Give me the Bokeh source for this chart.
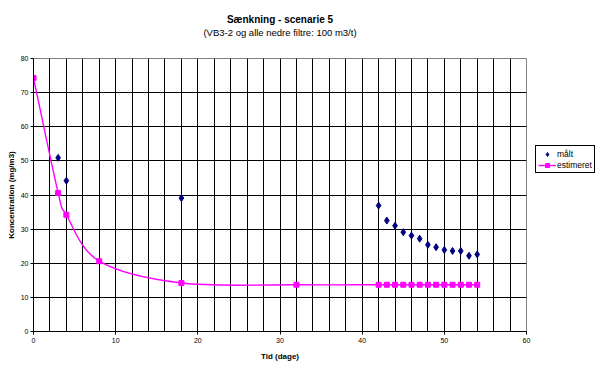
import math
from bokeh.plotting import figure
from bokeh.layouts import row
from bokeh.models import (ColumnDataSource, Legend, LegendItem, Title, FixedTicker, Range1d)
from bokeh.embed import file_html
from bokeh.resources import INLINE

title_main = "Sænkning - scenarie 5"
title_sub = "(VB3-2 og alle nedre filtre: 100 m3/t)"
x_label = "Tid (dage)"
y_label = "Koncentration (mg/m3)"
legend_labels = ["målt", "estimeret"]

x_ticks = [0, 10, 20, 30, 40, 50, 60]
y_ticks = [0, 10, 20, 30, 40, 50, 60, 70, 80]

maalt_x = [3, 4, 18, 42, 43, 44, 45, 46, 47, 48, 49, 50, 51, 52, 53, 54]
maalt_y = [50.9, 44.2, 39.1, 36.9, 32.5, 31.0, 29.1, 28.1, 27.2, 25.4, 24.7,
           23.9, 23.6, 23.6, 22.2, 22.6]

est_x = [0, 3, 4, 8, 18, 32, 42, 43, 44, 45, 46, 47, 48, 49, 50, 51, 52, 53, 54]
est_y = [74.3, 40.6, 34.2, 20.6, 14.2, 13.7, 13.7, 13.7, 13.7, 13.7, 13.7,
         13.7, 13.7, 13.7, 13.7, 13.7, 13.7, 13.7, 13.7]

FONT = "Liberation Sans"
MAGENTA = "#FF00FF"
NAVY = "#000080"
TOTAL_H = 364

p = figure(frame_width=493, frame_height=273,
           x_range=(0, 60), y_range=(0, 80),
           output_backend="svg", toolbar_location=None,
           min_border_left=33, min_border_right=6,
           min_border_top=58, min_border_bottom=33,
           background_fill_color="white", border_fill_color="white")

p.outline_line_color = "#808080"
p.outline_line_width = 1

# grid
p.xgrid.ticker = FixedTicker(ticks=list(range(2, 60, 2)))
p.ygrid.ticker = FixedTicker(ticks=list(range(10, 80, 10)))
for g in (p.xgrid, p.ygrid):
    g.grid_line_color = "black"
    g.grid_line_width = 1

# axes
p.xaxis.ticker = FixedTicker(ticks=x_ticks)
p.yaxis.ticker = FixedTicker(ticks=y_ticks)
for ax in (p.xaxis, p.yaxis):
    ax.axis_line_color = "black"
    ax.axis_line_width = 1
    ax.major_tick_line_color = "black"
    ax.major_tick_in = 0
    ax.major_tick_out = 3
    ax.minor_tick_line_color = None
    ax.major_label_text_font = FONT
    ax.major_label_text_font_size = "7px"
    ax.major_label_text_color = "black"
    ax.axis_label_text_font = FONT
    ax.axis_label_text_font_size = "8px"
    ax.axis_label_text_font_style = "bold"
    ax.axis_label_text_color = "black"
    ax.major_label_standoff = 3
    ax.axis_label_standoff = 6
p.xaxis.axis_label = x_label
p.yaxis.axis_label = y_label
p.yaxis.axis_label_standoff = 2
p.yaxis.major_label_standoff = 2

# smoothed estimated line (Catmull-Rom -> cubic bezier, like Excel's smoothed line)
n = len(est_x)
bx0, by0, bx1, by1, bcx0, bcy0, bcx1, bcy1 = ([] for _ in range(8))
for i in range(n - 1):
    a = max(i - 1, 0)
    d = min(i + 2, n - 1)
    bx0.append(est_x[i]); by0.append(est_y[i])
    bx1.append(est_x[i + 1]); by1.append(est_y[i + 1])
    bcx0.append(est_x[i] + (est_x[i + 1] - est_x[a]) / 6.0)
    bcy0.append(est_y[i] + (est_y[i + 1] - est_y[a]) / 6.0)
    bcx1.append(est_x[i + 1] - (est_x[d] - est_x[i]) / 6.0)
    bcy1.append(est_y[i + 1] - (est_y[d] - est_y[i]) / 6.0)
bsrc = ColumnDataSource(dict(x0=bx0, y0=by0, x1=bx1, y1=by1,
                             cx0=bcx0, cy0=bcy0, cx1=bcx1, cy1=bcy1))
p.bezier(x0="x0", y0="y0", x1="x1", y1="y1", cx0="cx0", cy0="cy0",
         cx1="cx1", cy1="cy1", source=bsrc, line_color=MAGENTA, line_width=1.4)

est_src = ColumnDataSource(dict(x=est_x, y=est_y))
p.scatter("x", "y", source=est_src, marker="square", size=5,
          fill_color=MAGENTA, line_color=MAGENTA)

m_src = ColumnDataSource(dict(x=maalt_x, y=maalt_y))
p.scatter("x", "y", source=m_src, marker="diamond", size=7,
          fill_color=NAVY, line_color=NAVY)

# titles (spacer keeps them clear of the plot area)
p.add_layout(Title(text=" ", align="center", standoff=18,
                   text_font=FONT, text_font_size="1px"), "above")
p.add_layout(Title(text=title_sub, align="center", offset=20, standoff=0,
                   text_font=FONT, text_font_size="9.5px", text_font_style="normal",
                   text_color="black"), "above")
p.add_layout(Title(text=title_main, align="center", offset=20, standoff=0,
                   text_font=FONT, text_font_size="10px", text_font_style="bold",
                   text_color="black"), "above")

# legend panel to the right of the chart (its own small figure, so the box is drawn)
q = figure(width=67, height=TOTAL_H, x_range=Range1d(-100, -99), y_range=Range1d(-100, -99),
           output_backend="svg", toolbar_location=None,
           x_axis_location=None, y_axis_location=None,
           min_border_left=0, min_border_right=0, min_border_top=0, min_border_bottom=0,
           background_fill_color="white", border_fill_color="white")
q.outline_line_color = None
q.xgrid.visible = False
q.ygrid.visible = False
lm = q.scatter("x", "y", source=ColumnDataSource(dict(x=maalt_x, y=maalt_y)),
               marker="diamond", size=7, fill_color=NAVY, line_color=NAVY)
ll = q.line(x=est_x, y=est_y, line_color=MAGENTA, line_width=1.4)
ls = q.scatter("x", "y", source=ColumnDataSource(dict(x=est_x, y=est_y)),
               marker="square", size=5, fill_color=MAGENTA, line_color=MAGENTA)

legend = Legend(items=[LegendItem(label=legend_labels[0], renderers=[lm]),
                       LegendItem(label=legend_labels[1], renderers=[ll, ls])],
                location=(3, TOTAL_H - 206), orientation="vertical",
                border_line_color="black", border_line_width=1, border_line_alpha=1.0,
                background_fill_color="white", background_fill_alpha=1.0,
                label_text_font=FONT, label_text_font_size="8.5px",
                label_text_color="black",
                glyph_width=18, glyph_height=10, label_height=11,
                label_standoff=1, spacing=0, padding=2, margin=0)
q.add_layout(legend, "center")

layout = row(p, q, spacing=0)

open("out.html", "w").write(file_html(layout, INLINE))
